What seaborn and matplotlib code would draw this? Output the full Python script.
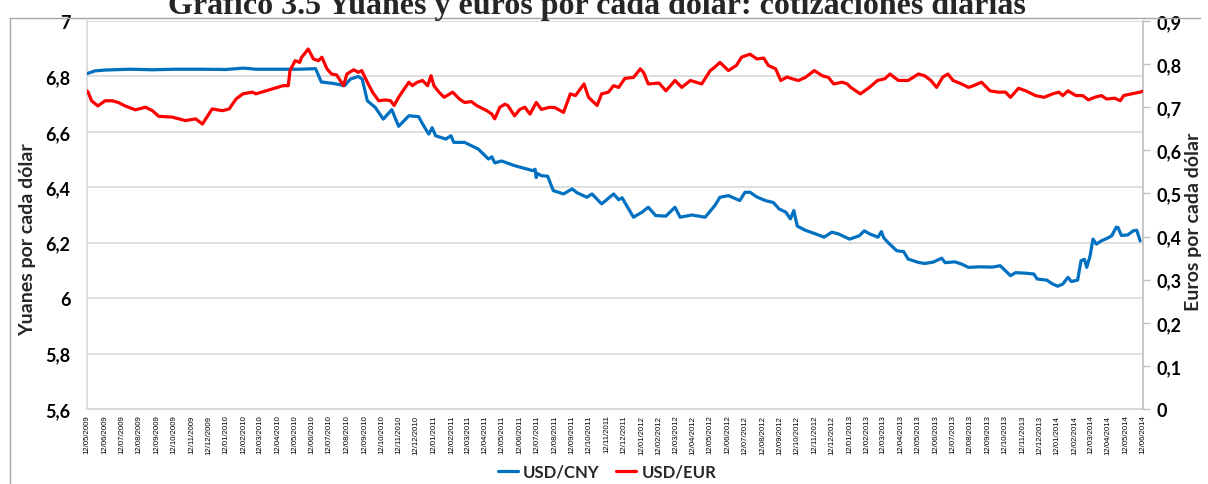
import matplotlib
matplotlib.use("Agg")
import matplotlib.pyplot as plt
import matplotlib.dates as mdates
from matplotlib.lines import Line2D
from matplotlib.ticker import FixedLocator, FuncFormatter
import seaborn as sns
import pandas as pd

# ---------------- data ----------------
title = "Gráfico 3.5 Yuanes y euros por cada dólar: cotizaciones diarias"
series_names = ["USD/CNY", "USD/EUR"]
left_label = "Yuanes por cada dólar"
right_label = "Euros por cada dólar"

cny_dates = ["2009-05-12","2009-05-26","2009-06-13","2009-07-27","2009-09-04","2009-10-14","2009-11-28","2010-01-11","2010-02-11","2010-03-05",
 "2010-04-17","2010-05-21","2010-06-18","2010-06-28","2010-07-18","2010-08-08","2010-08-18","2010-09-01","2010-09-08","2010-09-17",
 "2010-10-01","2010-10-15","2010-10-30","2010-11-11","2010-11-29","2010-12-16","2010-12-25","2011-01-03","2011-01-09","2011-01-15",
 "2011-02-02","2011-02-11","2011-02-16","2011-03-07","2011-03-31","2011-04-18","2011-04-24","2011-04-29","2011-05-11","2011-06-03",
 "2011-06-21","2011-07-05","2011-07-09","2011-07-11","2011-07-13","2011-07-20","2011-07-31","2011-08-10","2011-08-28","2011-09-12",
 "2011-09-21","2011-10-08","2011-10-17","2011-11-03","2011-11-24","2011-12-03","2011-12-09","2011-12-29","2012-01-13","2012-01-24",
 "2012-02-06","2012-02-24","2012-03-11","2012-03-20","2012-04-10","2012-05-03","2012-05-15","2012-05-20","2012-05-29","2012-06-13",
 "2012-06-22","2012-07-03","2012-07-12","2012-07-21","2012-08-02","2012-08-17","2012-08-31","2012-09-10","2012-09-22","2012-09-30",
 "2012-10-06","2012-10-12","2012-10-26","2012-11-13","2012-11-28","2012-12-12","2012-12-23","2013-01-12","2013-01-29","2013-02-07",
 "2013-02-16","2013-03-03","2013-03-09","2013-03-13","2013-03-21","2013-04-05","2013-04-17","2013-04-25","2013-05-13","2013-05-24",
 "2013-06-08","2013-06-23","2013-06-29","2013-07-16","2013-07-28","2013-08-09","2013-08-27","2013-09-20","2013-10-04","2013-10-13",
 "2013-10-22","2013-10-31","2013-11-18","2013-12-02","2013-12-08","2013-12-25","2014-01-04","2014-01-13","2014-01-22","2014-01-31",
 "2014-02-06","2014-02-17","2014-02-23","2014-03-01","2014-03-05","2014-03-11","2014-03-16","2014-03-22","2014-03-31","2014-04-09",
 "2014-04-18","2014-04-26","2014-04-29","2014-05-05","2014-05-16","2014-05-26","2014-06-01","2014-06-07"]
cny_values = [6.810,6.820,6.823,6.826,6.824,6.826,6.826,6.825,6.830,6.826,
 6.826,6.826,6.828,6.780,6.775,6.767,6.790,6.800,6.790,6.712,
 6.688,6.646,6.680,6.620,6.658,6.655,6.622,6.592,6.615,6.586,
 6.574,6.586,6.562,6.562,6.538,6.502,6.510,6.488,6.495,6.478,
 6.468,6.460,6.465,6.435,6.450,6.442,6.440,6.388,6.376,6.394,
 6.380,6.364,6.376,6.340,6.376,6.355,6.362,6.292,6.310,6.328,
 6.298,6.296,6.328,6.292,6.300,6.292,6.322,6.334,6.364,6.370,
 6.362,6.352,6.382,6.382,6.365,6.352,6.345,6.322,6.310,6.286,
 6.316,6.260,6.245,6.232,6.220,6.238,6.232,6.213,6.225,6.243,
 6.232,6.220,6.240,6.218,6.200,6.171,6.168,6.141,6.129,6.125,
 6.130,6.144,6.128,6.131,6.123,6.111,6.113,6.112,6.117,6.099,
 6.081,6.092,6.090,6.087,6.069,6.065,6.051,6.043,6.051,6.075,
 6.060,6.065,6.135,6.140,6.111,6.153,6.213,6.195,6.207,6.215,
 6.225,6.256,6.255,6.226,6.228,6.243,6.245,6.207]

eur_dates = ["2009-05-12","2009-05-14","2009-05-20","2009-05-31","2009-06-13","2009-06-25","2009-07-06","2009-07-18","2009-08-05","2009-08-23",
 "2009-09-04","2009-09-15","2009-10-09","2009-11-01","2009-11-19","2009-12-01","2009-12-18","2010-01-05","2010-01-17","2010-01-29",
 "2010-02-10","2010-02-27","2010-03-05","2010-04-22","2010-05-01","2010-05-04","2010-05-13","2010-05-21","2010-05-24","2010-06-05",
 "2010-06-14","2010-06-23","2010-06-29","2010-07-08","2010-07-16","2010-07-25","2010-08-06","2010-08-12","2010-08-24","2010-09-01",
 "2010-09-07","2010-09-17","2010-09-26","2010-10-07","2010-10-19","2010-10-28","2010-11-03","2010-11-11","2010-11-17","2010-11-29",
 "2010-12-05","2010-12-14","2010-12-23","2011-01-01","2011-01-07","2011-01-12","2011-01-21","2011-01-30","2011-02-14","2011-02-26",
 "2011-03-07","2011-03-19","2011-03-28","2011-04-15","2011-04-24","2011-04-29","2011-05-08","2011-05-17","2011-05-22","2011-06-03",
 "2011-06-12","2011-06-21","2011-06-30","2011-07-11","2011-07-20","2011-08-04","2011-08-13","2011-08-28","2011-09-09","2011-09-18",
 "2011-10-03","2011-10-11","2011-10-26","2011-11-03","2011-11-15","2011-11-24","2011-12-03","2011-12-14","2011-12-29","2012-01-10",
 "2012-01-16","2012-01-24","2012-02-12","2012-02-24","2012-03-11","2012-03-23","2012-04-07","2012-04-27","2012-05-12","2012-05-20",
 "2012-05-29","2012-06-13","2012-06-27","2012-07-06","2012-07-21","2012-08-02","2012-08-14","2012-08-22","2012-09-04","2012-09-13",
 "2012-09-24","2012-10-03","2012-10-14","2012-10-26","2012-11-11","2012-11-25","2012-12-06","2012-12-15","2012-12-30","2013-01-08",
 "2013-01-14","2013-01-31","2013-02-16","2013-03-02","2013-03-15","2013-03-24","2013-04-08","2013-04-25","2013-05-13","2013-05-24",
 "2013-06-04","2013-06-14","2013-06-25","2013-07-04","2013-07-13","2013-07-28","2013-08-09","2013-08-18","2013-09-01","2013-09-16",
 "2013-09-30","2013-10-13","2013-10-22","2013-11-05","2013-11-18","2013-12-05","2013-12-20","2014-01-04","2014-01-15","2014-01-22",
 "2014-01-31","2014-02-14","2014-02-26","2014-03-08","2014-03-19","2014-03-31","2014-04-09","2014-04-23","2014-05-03","2014-05-09",
 "2014-05-23","2014-06-07","2014-06-11"]
eur_values = [0.738,0.735,0.715,0.703,0.715,0.715,0.711,0.703,0.694,0.700,
 0.692,0.679,0.677,0.669,0.673,0.661,0.696,0.692,0.696,0.719,
 0.731,0.735,0.731,0.750,0.750,0.785,0.808,0.804,0.815,0.835,
 0.812,0.808,0.816,0.789,0.777,0.775,0.750,0.777,0.787,0.781,
 0.785,0.758,0.735,0.715,0.717,0.715,0.704,0.723,0.735,0.758,
 0.750,0.758,0.762,0.750,0.773,0.750,0.735,0.723,0.735,0.719,
 0.711,0.713,0.704,0.692,0.684,0.673,0.700,0.707,0.704,0.680,
 0.695,0.700,0.684,0.711,0.695,0.700,0.699,0.688,0.731,0.727,
 0.754,0.723,0.704,0.731,0.735,0.750,0.746,0.767,0.769,0.789,
 0.780,0.754,0.756,0.738,0.762,0.746,0.762,0.754,0.785,0.793,
 0.804,0.785,0.797,0.816,0.823,0.812,0.814,0.797,0.789,0.762,
 0.770,0.766,0.762,0.769,0.785,0.773,0.769,0.754,0.758,0.754,
 0.746,0.731,0.746,0.762,0.766,0.777,0.762,0.762,0.777,0.773,
 0.762,0.746,0.770,0.777,0.762,0.754,0.746,0.750,0.758,0.738,
 0.735,0.735,0.723,0.744,0.738,0.727,0.723,0.731,0.735,0.727,
 0.738,0.727,0.727,0.717,0.723,0.727,0.719,0.721,0.715,0.727,
 0.731,0.735,0.737]

left_ticks = [5.6, 5.8, 6.0, 6.2, 6.4, 6.6, 6.8, 7.0]
right_ticks = [0, 0.1, 0.2, 0.3, 0.4, 0.5, 0.6, 0.7, 0.8, 0.9]
x_start, x_end = "2009-05-12", "2014-06-12"

# ---------------- styling ----------------
BLUE = "#0070C0"
RED = "#FF0000"
GRID = "#D9D9D9"
HUMAN = ['Lato', 'DejaVu Sans']

sns.set_theme(style="white")
plt.rcParams['font.family'] = ['Liberation Sans', 'DejaVu Sans']

W, H = 1208, 485
fig = plt.figure(figsize=(W / 100, H / 100), dpi=100)
L, R, T, B = 87, 1143, 22, 410
ax = fig.add_axes([L / W, 1 - B / H, (R - L) / W, (B - T) / H])
ax2 = ax.twinx()

cny = pd.DataFrame({"fecha": pd.to_datetime(cny_dates), "valor": cny_values})
eur = pd.DataFrame({"fecha": pd.to_datetime(eur_dates), "valor": eur_values})

sns.lineplot(data=cny, x="fecha", y="valor", ax=ax, color=BLUE, lw=2.3, zorder=3)
sns.lineplot(data=eur, x="fecha", y="valor", ax=ax2, color=RED, lw=2.3, zorder=3)

ax.set_xlim(pd.Timestamp(x_start), pd.Timestamp(x_end))
ax.set_ylim(left_ticks[0], left_ticks[-1])
ax2.set_ylim(right_ticks[0], right_ticks[-1])

def comma_fmt(v, pos=None):
    s = f"{v:.1f}".rstrip("0").rstrip(".")
    return s.replace(".", ",")

ax.yaxis.set_major_locator(FixedLocator(left_ticks))
ax.yaxis.set_major_formatter(FuncFormatter(comma_fmt))
ax2.yaxis.set_major_locator(FixedLocator(right_ticks))
ax2.yaxis.set_major_formatter(FuncFormatter(comma_fmt))

ax.xaxis.set_major_locator(mdates.MonthLocator(bymonthday=12))
ax.xaxis.set_major_formatter(mdates.DateFormatter("%d/%m/%Y"))

ax.grid(axis="y", color=GRID, lw=1.2, zorder=0)
ax.grid(axis="x", visible=False)
ax2.grid(False)

for a in (ax, ax2):
    for s in a.spines.values():
        s.set_visible(False)
ax.spines["left"].set_visible(True)
ax.spines["left"].set_color(GRID)
ax.spines["left"].set_linewidth(1.2)
ax.spines["bottom"].set_visible(True)
ax.spines["bottom"].set_color(GRID)
ax.spines["bottom"].set_linewidth(1.5)
ax2.spines["right"].set_visible(True)
ax2.spines["right"].set_color("#BFBFBF")
ax2.spines["right"].set_linewidth(1.2)

ax.tick_params(axis="y", which="both", length=0, pad=12, labelsize=13, labelcolor="black")
ax2.tick_params(axis="y", which="both", length=5, width=1, color="#BFBFBF", direction="out",
                pad=5, labelsize=13, labelcolor="black")
ax.tick_params(axis="x", which="both", length=0, pad=4, labelsize=5.6, labelcolor="black",
               labelrotation=90)
for lab in ax.get_yticklabels() + ax2.get_yticklabels():
    lab.set_fontweight("bold")
    lab.set_family(HUMAN)

ax.set_xlabel("")
ax.set_ylabel("")
ax2.set_ylabel("")

fig.text(28 / W, 1 - 240 / H, left_label, rotation=90, ha="center", va="center",
         fontsize=14, family=HUMAN, fontweight="bold")
fig.text(1194 / W, 1 - 222 / H, right_label, rotation=90, ha="center", va="center",
         fontsize=14, family=HUMAN, fontweight="bold")

# title, partly cut off at the top as in the reference
fig.text(597 / W, 1 - 14 / H, title, ha="center", va="baseline", fontsize=23,
         fontweight="bold", family=['Liberation Serif', 'DejaVu Serif'])

# outer chart frame
frame_kw = dict(color="#A6A6A6", lw=1.0, transform=fig.transFigure)
fig.add_artist(Line2D([10 / W, 10 / W], [0, 1 - 19 / H], **frame_kw))
fig.add_artist(Line2D([10 / W, 1200 / W], [1 - 19 / H, 1 - 19 / H], **frame_kw))

handles = [Line2D([], [], color=BLUE, lw=2.3), Line2D([], [], color=RED, lw=2.3)]
fig.legend(handles, series_names, loc="center", bbox_to_anchor=(607 / W, 1 - 473 / H),
           ncol=2, frameon=False, handlelength=1.2, handletextpad=0.3,
           columnspacing=1.0, prop={"weight": "bold", "size": 12, "family": HUMAN})

fig.savefig("out.png", dpi=100)
